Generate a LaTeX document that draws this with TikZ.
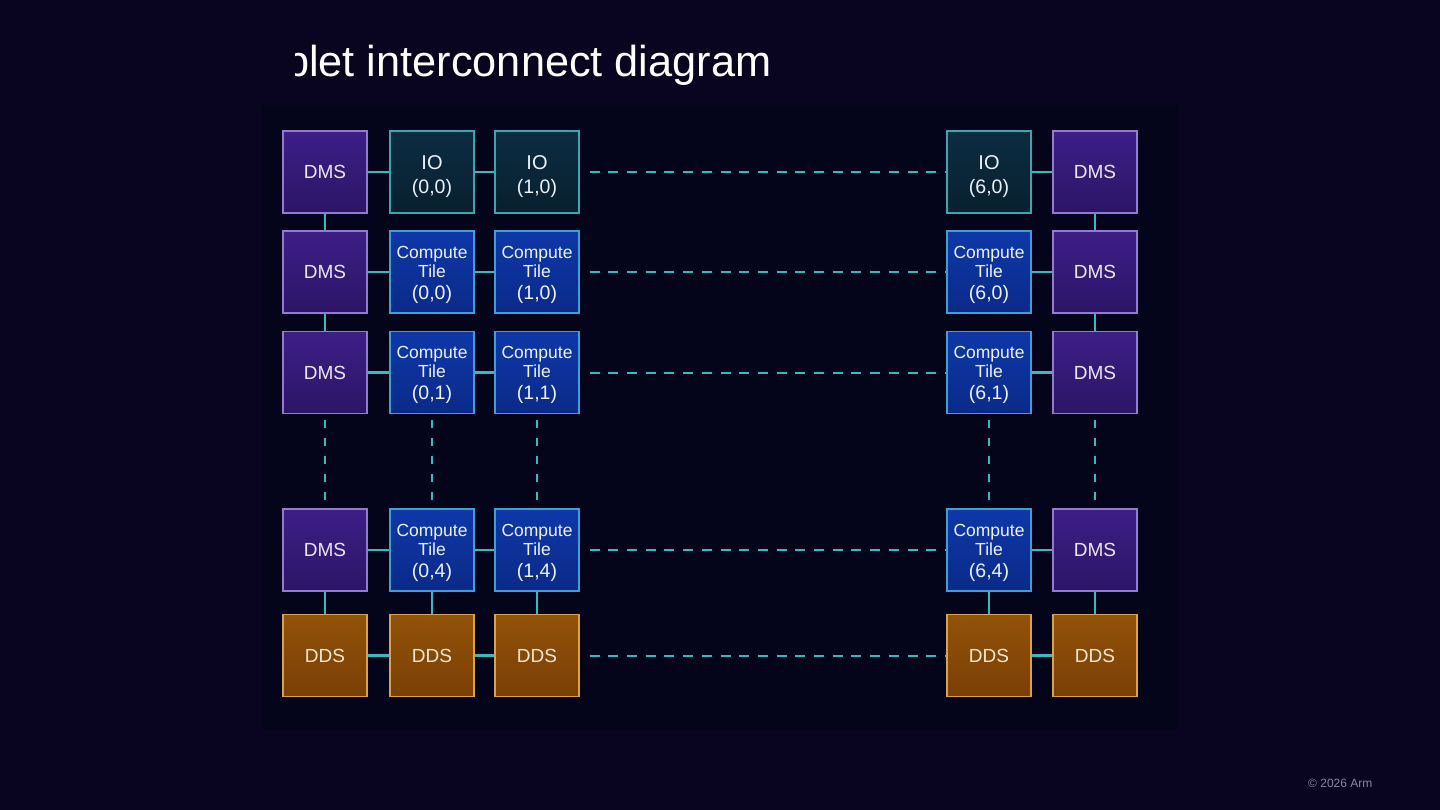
\documentclass[tikz,border=0pt]{standalone}
\usepackage{fontspec}
\setmainfont{Liberation Sans}
\definecolor{bgc}{HTML}{090420}
\definecolor{panelc}{HTML}{04051B}
\definecolor{dmsb}{HTML}{9479D2}
\definecolor{dmst}{HTML}{3D1E86}
\definecolor{dmsbot}{HTML}{2C1566}
\definecolor{iob}{HTML}{3AA6AE}
\definecolor{iot}{HTML}{0C2C42}
\definecolor{iobot}{HTML}{08202F}
\definecolor{ctb}{HTML}{3E9FD6}
\definecolor{ctt}{HTML}{0E38A8}
\definecolor{ctbot}{HTML}{0A2A88}
\definecolor{ddsb}{HTML}{D8A24E}
\definecolor{ddst}{HTML}{925208}
\definecolor{ddsbot}{HTML}{7A3F06}
\definecolor{ddstext}{HTML}{F6EAD2}
\definecolor{linkc}{HTML}{3CB8BC}
\definecolor{copyc}{HTML}{8A86A2}
\definecolor{dmstext}{HTML}{ECE8F6}
\definecolor{bluetext}{HTML}{EEF2FA}
\tikzset{
  box/.style={minimum width=84pt, minimum height=82pt, line width=1.2pt, inner sep=0pt, font=\fontsize{19}{23}\selectfont},
  dms/.style={box, draw=dmsb, top color=dmst, bottom color=dmsbot, text=dmstext},
  io/.style={box, draw=iob, top color=iot, bottom color=iobot, text=bluetext},
  ct/.style={box, draw=ctb, top color=ctt, bottom color=ctbot, text=bluetext},
  dds/.style={box, draw=ddsb, top color=ddst, bottom color=ddsbot, text=ddstext},
  link/.style={draw=linkc, line width=2.4pt},
  dlinkh/.style={draw=linkc, line width=2pt, dash pattern=on 10pt off 8.7pt, shorten <=10pt},
  dlinkv/.style={draw=linkc, line width=2pt, dash pattern=on 8pt off 10pt, shorten <=6pt, shorten >=3pt},
}
\newcommand{\ctlab}[1]{\raisebox{-2.5pt}[\height][\depth]{\parbox{80pt}{\centering\fontsize{17.5}{19}\selectfont Compute\\Tile\\[3pt]\fontsize{19.5}{19}\selectfont #1}}}
\newcommand{\iolab}[1]{\raisebox{-4.5pt}[\height][\depth]{\parbox{80pt}{\centering\fontsize{20}{24.5}\selectfont IO\\\fontsize{19.5}{24.5}\selectfont #1}}}
\begin{document}
\begin{tikzpicture}[x=1pt,y=-1pt]
\fill[bgc] (0,0) rectangle (1440,810);
\useasboundingbox (0,0) rectangle (1440,810);
\fill[panelc] (262,105) rectangle (1178,730);
% title
\node[anchor=base west, inner sep=0pt, text=white, font=\fontsize{43.3}{50}\selectfont] (title) at (285,77) {plet interconnect diagram};
\fill[bgc] (20,28) rectangle (295,96);
% row 0
\node[dms] (d0l) at (325,172) {DMS};
\node[io] (io0) at (432,172) {\iolab{(0,0)}};
\node[io] (io1) at (537,172) {\iolab{(1,0)}};
\node[io] (io6) at (989,172) {\iolab{(6,0)}};
\node[dms] (d0r) at (1095,172) {DMS};
% row 1
\node[dms] (d1l) at (325,272) {DMS};
\node[ct] (c00) at (432,272) {\ctlab{(0,0)}};
\node[ct] (c10) at (537,272) {\ctlab{(1,0)}};
\node[ct] (c60) at (989,272) {\ctlab{(6,0)}};
\node[dms] (d1r) at (1095,272) {DMS};
% row 2
\node[dms] (d2l) at (325,372.5) {DMS};
\node[ct] (c01) at (432,372.5) {\ctlab{(0,1)}};
\node[ct] (c11) at (537,372.5) {\ctlab{(1,1)}};
\node[ct] (c61) at (989,372.5) {\ctlab{(6,1)}};
\node[dms] (d2r) at (1095,372.5) {DMS};
% row 3
\node[dms] (d3l) at (325,550) {DMS};
\node[ct] (c04) at (432,550) {\ctlab{(0,4)}};
\node[ct] (c14) at (537,550) {\ctlab{(1,4)}};
\node[ct] (c64) at (989,550) {\ctlab{(6,4)}};
\node[dms] (d3r) at (1095,550) {DMS};
% row 4
\node[dds] (s0) at (325,655.5) {DDS};
\node[dds] (s1) at (432,655.5) {DDS};
\node[dds] (s2) at (537,655.5) {DDS};
\node[dds] (s6) at (989,655.5) {DDS};
\node[dds] (s7) at (1095,655.5) {DDS};
% horizontal links
\foreach \a/\b/\c/\d/\e in {d0l/io0/io1/io6/d0r, d1l/c00/c10/c60/d1r, d2l/c01/c11/c61/d2r, d3l/c04/c14/c64/d3r, s0/s1/s2/s6/s7}{
  \draw[link] (\a.east) -- (\b.west);
  \draw[link] (\b.east) -- (\c.west);
  \draw[dlinkh] (\c.east) -- (\d.west);
  \draw[link] (\d.east) -- (\e.west);
}
% vertical links
\draw[link] (d0l.south) -- (d1l.north);
\draw[link] (d1l.south) -- (d2l.north);
\draw[link] (d0r.south) -- (d1r.north);
\draw[link] (d1r.south) -- (d2r.north);
\foreach \a/\b in {d3l/s0, c04/s1, c14/s2, c64/s6, d3r/s7}{
  \draw[link] (\a.south) -- (\b.north);
}
\foreach \a/\b in {d2l/d3l, c01/c04, c11/c14, c61/c64, d2r/d3r}{
  \draw[dlinkv] (\a.south) -- (\b.north);
}
% footer
\node[anchor=base west, inner sep=0pt, text=copyc, font=\fontsize{12}{14}\selectfont] (copy) at (1308,787) {© 2026 Arm};
\end{tikzpicture}
\end{document}
